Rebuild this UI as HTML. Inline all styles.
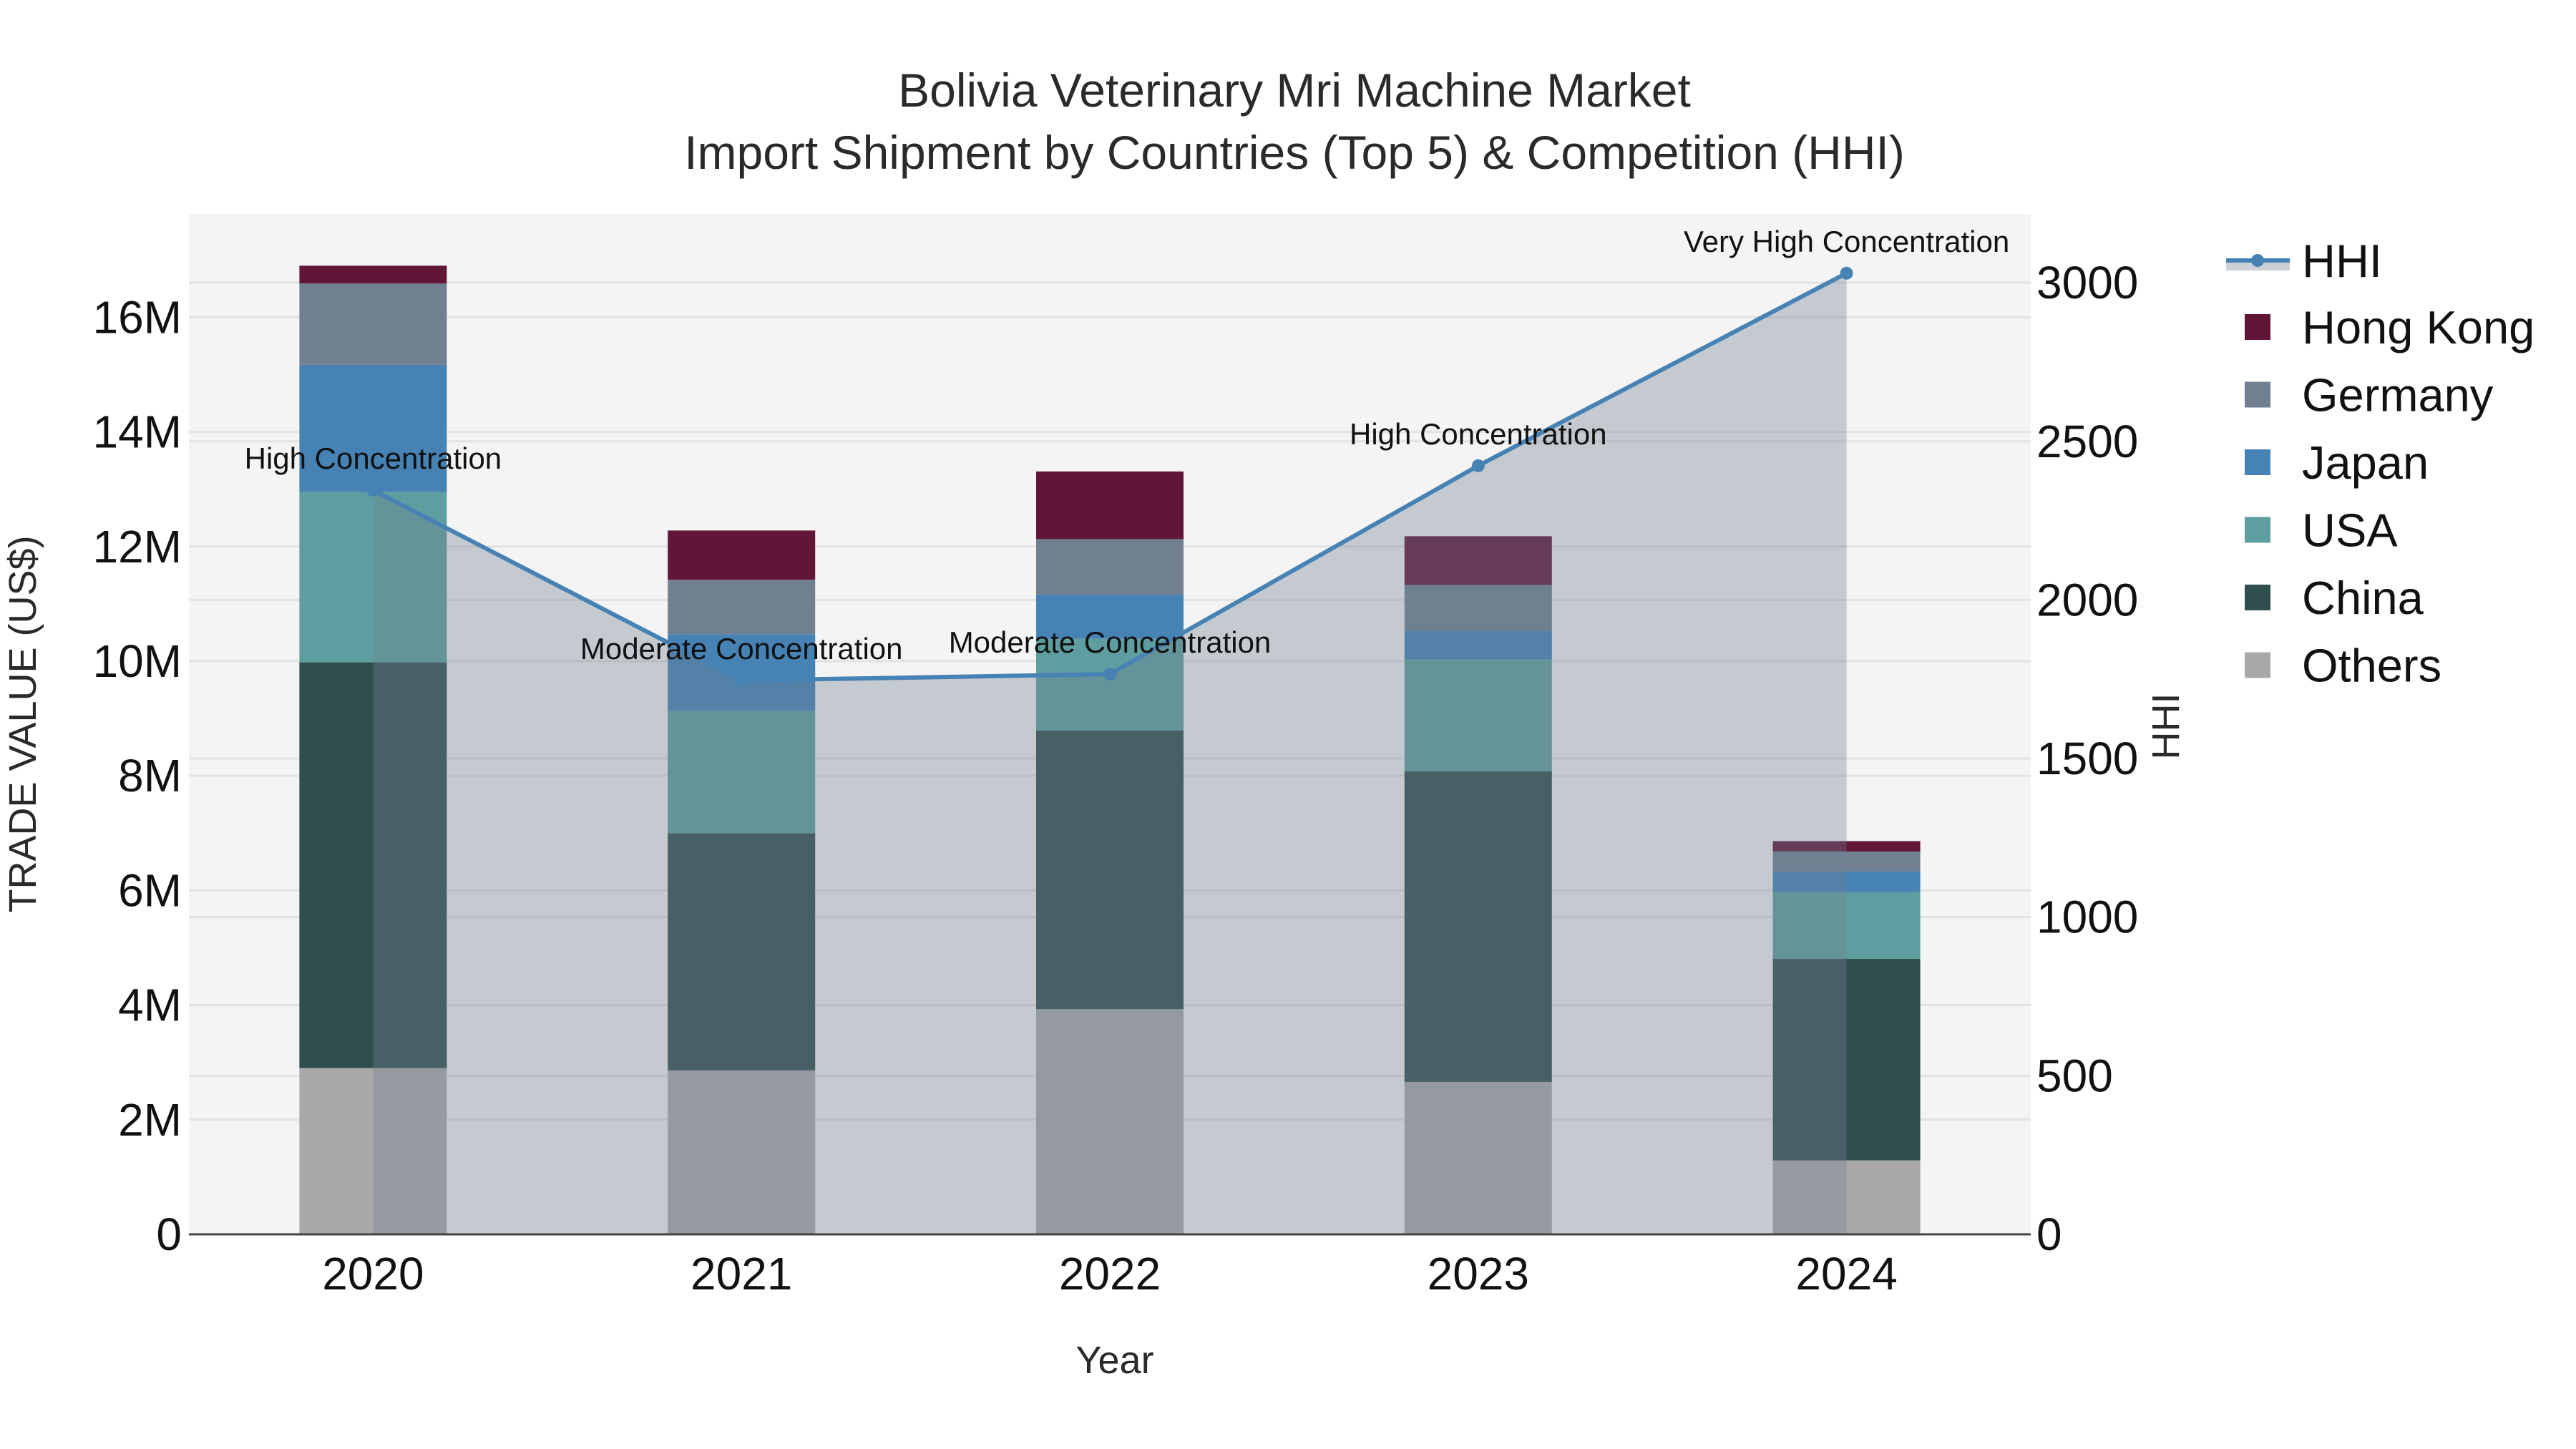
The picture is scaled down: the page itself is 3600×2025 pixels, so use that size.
<!DOCTYPE html>
<html><head><meta charset="utf-8"><style>
html,body{margin:0;padding:0;background:#fff;}
svg{display:block;font-family:"Liberation Sans",sans-serif;}
</style></head><body>
<svg id="chart" width="3600" height="2025" viewBox="0 0 3600 2025" xmlns="http://www.w3.org/2000/svg">
<text x="1809" y="149" font-size="66" text-anchor="middle" fill="#2a2a2a">Bolivia Veterinary Mri Machine Market</text>
<text x="1809" y="236" font-size="66" text-anchor="middle" fill="#2a2a2a">Import Shipment by Countries (Top 5) &amp; Competition (HHI)</text>
<rect x="264" y="299" width="2574" height="1426" fill="#f4f4f4"/>
<g id="grid"></g>
<g id="bars"></g>
<g id="hhi"></g>
<g id="axes"></g>
<text transform="translate(50,1012) rotate(-90)" font-size="54" text-anchor="middle" fill="#2a2a2a">TRADE VALUE (US$)</text>
<text transform="translate(3045,1015) rotate(-90)" font-size="54" text-anchor="middle" fill="#2a2a2a">HHI</text>
<text x="1558" y="1919" font-size="54" text-anchor="middle" fill="#2a2a2a">Year</text>
<g id="legend"></g>
</svg>
<script>
const years = ["2020","2021","2022","2023","2024"];
const seriesNames = ["Others","China","USA","Japan","Germany","Hong Kong"];
const others = [2.90, 2.86, 3.93, 2.66, 1.29];
const china = [7.08, 4.14, 4.86, 5.42, 3.52];
const usa = [2.97, 2.13, 1.60, 1.95, 1.16];
const japan = [2.22, 1.34, 0.77, 0.50, 0.36];
const germany = [1.42, 0.95, 0.97, 0.80, 0.35];
const hongKong = [0.31, 0.86, 1.18, 0.85, 0.18];
const hhiValues = [2346, 1746, 1766, 2423, 3030];
const hhiLabels = ["High Concentration","Moderate Concentration","Moderate Concentration","High Concentration","Very High Concentration"];
const yTicks = [0,2,4,6,8,10,12,14,16];
const y2Ticks = [0,500,1000,1500,2000,2500,3000];
const colors = ["#a9a9a9","#2f4f4f","#5f9ea0","#4682b4","#708090","#611537"];

const NS="http://www.w3.org/2000/svg";
const L=264,R=2838,Y0=1725;
const xScale=i=>L+(i+0.5)*(R-L)/years.length;
const yScale=v=>Y0-v*80.1;
const y2Scale=v=>Y0-v*0.4433;
const bw=206;
function mk(tag,attrs,parent){const e=document.createElementNS(NS,tag);for(const k in attrs)e.setAttribute(k,attrs[k]);parent.appendChild(e);return e;}
const grid=document.getElementById('grid'),bars=document.getElementById('bars'),hhi=document.getElementById('hhi'),axes=document.getElementById('axes'),legend=document.getElementById('legend');
yTicks.forEach(t=>{
  if(t>0){const g=mk('line',{x1:L,x2:R,y1:yScale(t),y2:yScale(t),stroke:"#e2e2e2","stroke-width":3},grid);
  
  }
  const tx=mk('text',{x:254,y:yScale(t)+22,"font-size":64,"text-anchor":"end",fill:"#111"},axes);tx.textContent=t===0?"0":t+"M";
  
  
});
y2Ticks.forEach(t=>{
  if(t>0){const g=mk('line',{x1:L,x2:R,y1:y2Scale(t),y2:y2Scale(t),stroke:"#e2e2e2","stroke-width":3},grid);
  
  }
  const tx=mk('text',{x:2846,y:y2Scale(t)+22,"font-size":64,"text-anchor":"start",fill:"#111"},axes);tx.textContent=t;
  
  
});
const series=[others,china,usa,japan,germany,hongKong];
years.forEach((yr,i)=>{
  let base=0;
  series.forEach((s,k)=>{
    const top=base+s[i];
    const r=mk('rect',{x:xScale(i)-bw/2,y:yScale(top),width:bw,height:yScale(base)-yScale(top),fill:colors[k]},bars);
    
    
    base=top;
  });
  const tl=mk('text',{x:xScale(i),y:1802,"font-size":64,"text-anchor":"middle",fill:"#111"},axes);tl.textContent=yr;
  
  
});
let pts=hhiValues.map((v,i)=>xScale(i)+","+y2Scale(v));
const area=mk('polygon',{points:xScale(0)+","+Y0+" "+pts.join(" ")+" "+xScale(years.length-1)+","+Y0,fill:"rgba(112,128,144,0.36)"},hhi);


const line=mk('polyline',{points:pts.join(" "),fill:"none",stroke:"#4682b4","stroke-width":6},hhi);


hhiValues.forEach((v,i)=>{
  const c=mk('circle',{cx:xScale(i),cy:y2Scale(v),r:9,fill:"#4682b4"},hhi);
  
  
  const a=mk('text',{x:xScale(i),y:y2Scale(v)-30,"font-size":42,"text-anchor":"middle",fill:"#111"},hhi);a.textContent=hhiLabels[i];
  
  
});
const ax=mk('line',{x1:L,x2:R,y1:Y0,y2:Y0,stroke:"#444","stroke-width":3},axes);


const lg1=mk('rect',{x:3111,y:364,width:89,height:14,fill:"rgba(112,128,144,0.36)"},legend);


const lg2=mk('line',{x1:3111,x2:3200,y1:364,y2:364,stroke:"#4682b4","stroke-width":6},legend);


const lg3=mk('circle',{cx:3155,cy:364,r:9,fill:"#4682b4"},legend);


const lt=mk('text',{x:3217,y:387,"font-size":65,fill:"#111"},legend);lt.textContent="HHI";


for(let j=0;j<6;j++){
  const k=5-j, cy=457+j*94.5;
  const sw=mk('rect',{x:3137,y:cy-18,width:36,height:36,fill:colors[k]},legend);
  
  
  const t=mk('text',{x:3217,y:cy+23,"font-size":65,fill:"#111"},legend);t.textContent=seriesNames[k];
  
  
}
</script>
</body></html>
